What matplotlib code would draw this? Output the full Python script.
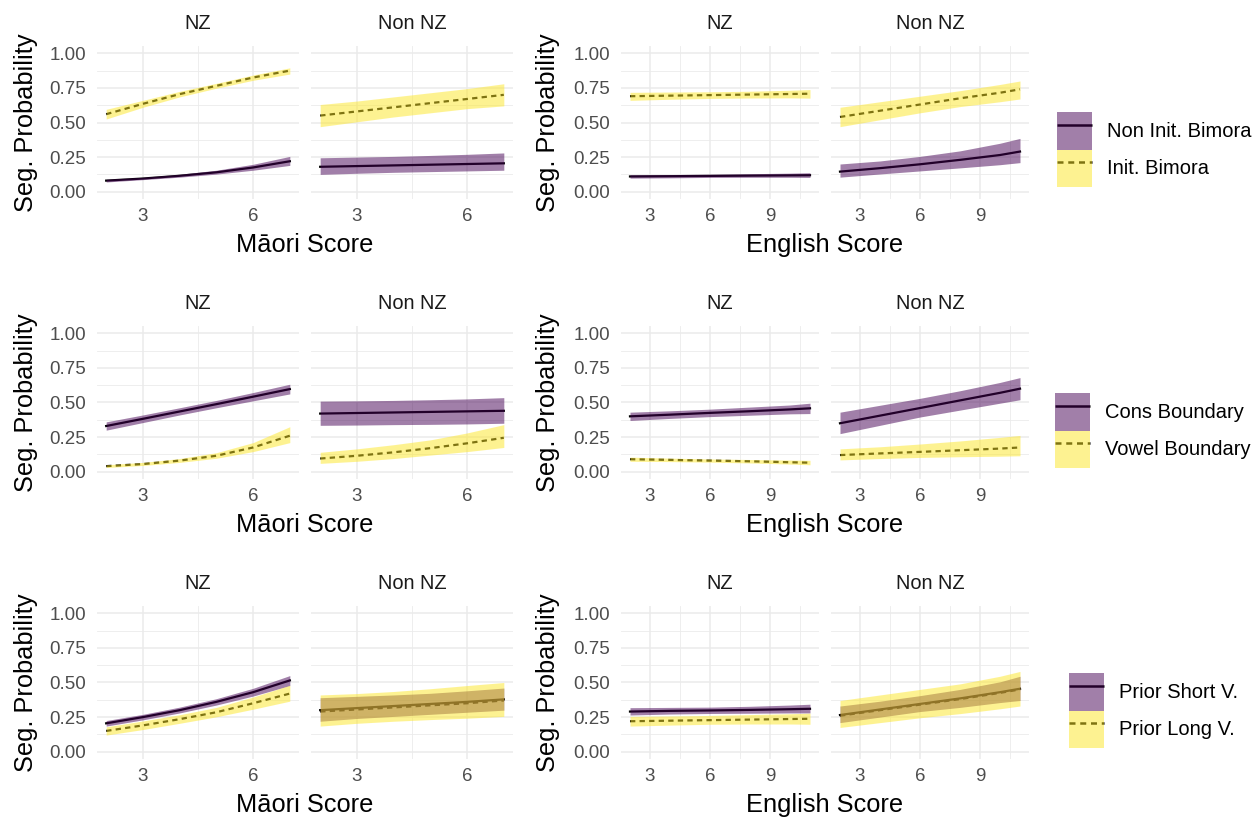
import matplotlib.pyplot as plt
from matplotlib.lines import Line2D
from matplotlib.patches import Patch
from matplotlib.ticker import FixedLocator

plt.rcParams["font.family"] = ["Liberation Sans", "DejaVu Sans"]

# x grids the fitted curves were read at
maori_x = [2, 3, 4, 5, 6, 7]
english_x = [2, 4, 6, 8, 10, 11]

facet_names = ["NZ", "Non NZ"]
y_ticks = [0.0, 0.25, 0.5, 0.75, 1.0]
y_labels = ["0.00", "0.25", "0.50", "0.75", "1.00"]
y_minor = [0.125, 0.375, 0.625, 0.875]
maori_ticks = [3, 6]
maori_minor = [4.5]
english_ticks = [3, 6, 9]
english_minor = [4.5, 7.5, 10.5]

row_labels = [
    ["Non Init. Bimora", "Init. Bimora"],
    ["Cons Boundary", "Vowel Boundary"],
    ["Prior Short V.", "Prior Long V."],
]

# each series: [fit, lower, upper]
# row 1: bimora
bim_mao_nz_a = [[0.080, 0.095, 0.115, 0.140, 0.175, 0.220],
                [0.070, 0.087, 0.105, 0.127, 0.155, 0.190],
                [0.090, 0.104, 0.126, 0.155, 0.198, 0.255]]
bim_mao_nz_b = [[0.560, 0.635, 0.705, 0.765, 0.825, 0.875],
                [0.525, 0.610, 0.685, 0.748, 0.805, 0.850],
                [0.595, 0.660, 0.725, 0.783, 0.843, 0.895]]
bim_mao_non_a = [[0.180, 0.185, 0.190, 0.195, 0.200, 0.205],
                 [0.125, 0.133, 0.140, 0.145, 0.150, 0.155],
                 [0.245, 0.250, 0.255, 0.262, 0.270, 0.280]]
bim_mao_non_b = [[0.550, 0.580, 0.610, 0.640, 0.670, 0.700],
                 [0.470, 0.505, 0.540, 0.570, 0.600, 0.620],
                 [0.630, 0.655, 0.685, 0.715, 0.745, 0.780]]
bim_eng_nz_a = [[0.110, 0.112, 0.114, 0.116, 0.118, 0.119],
                [0.098, 0.100, 0.103, 0.104, 0.104, 0.103],
                [0.123, 0.124, 0.126, 0.130, 0.134, 0.137]]
bim_eng_nz_b = [[0.690, 0.694, 0.698, 0.702, 0.706, 0.708],
                [0.660, 0.668, 0.674, 0.677, 0.678, 0.676],
                [0.718, 0.720, 0.722, 0.726, 0.733, 0.738]]
bim_eng_non_a = [[0.145, 0.170, 0.198, 0.230, 0.265, 0.290],
                 [0.105, 0.128, 0.150, 0.172, 0.195, 0.210],
                 [0.200, 0.222, 0.255, 0.295, 0.350, 0.385]]
bim_eng_non_b = [[0.540, 0.585, 0.630, 0.675, 0.715, 0.740],
                 [0.470, 0.520, 0.570, 0.615, 0.650, 0.670],
                 [0.610, 0.650, 0.690, 0.730, 0.775, 0.800]]

# row 2: boundary
bnd_mao_nz_a = [[0.330, 0.382, 0.435, 0.488, 0.542, 0.597],
                [0.300, 0.355, 0.410, 0.462, 0.512, 0.562],
                [0.360, 0.410, 0.462, 0.515, 0.572, 0.632]]
bnd_mao_nz_b = [[0.040, 0.055, 0.080, 0.115, 0.175, 0.260],
                [0.030, 0.045, 0.067, 0.097, 0.145, 0.210],
                [0.050, 0.067, 0.095, 0.137, 0.210, 0.325]]
bnd_mao_non_a = [[0.420, 0.424, 0.428, 0.432, 0.436, 0.440],
                 [0.335, 0.337, 0.340, 0.342, 0.345, 0.350],
                 [0.510, 0.512, 0.515, 0.520, 0.526, 0.535]]
bnd_mao_non_b = [[0.095, 0.115, 0.140, 0.170, 0.205, 0.245],
                 [0.060, 0.075, 0.095, 0.120, 0.145, 0.175],
                 [0.140, 0.165, 0.195, 0.230, 0.280, 0.340]]
bnd_eng_nz_a = [[0.400, 0.412, 0.425, 0.437, 0.450, 0.458],
                [0.370, 0.385, 0.398, 0.408, 0.418, 0.420],
                [0.430, 0.440, 0.452, 0.467, 0.482, 0.495]]
bnd_eng_nz_b = [[0.090, 0.085, 0.080, 0.075, 0.068, 0.065],
                [0.075, 0.073, 0.069, 0.063, 0.055, 0.050],
                [0.105, 0.098, 0.092, 0.088, 0.084, 0.082]]
bnd_eng_non_a = [[0.350, 0.405, 0.460, 0.515, 0.570, 0.600],
                 [0.275, 0.335, 0.395, 0.445, 0.495, 0.520],
                 [0.430, 0.480, 0.530, 0.585, 0.645, 0.680]]
bnd_eng_non_b = [[0.120, 0.132, 0.143, 0.155, 0.167, 0.175],
                 [0.085, 0.095, 0.103, 0.108, 0.112, 0.115],
                 [0.165, 0.180, 0.200, 0.222, 0.248, 0.262]]

# row 3: prior vowel length
pv_mao_nz_a = [[0.205, 0.250, 0.300, 0.360, 0.430, 0.515],
               [0.185, 0.230, 0.280, 0.337, 0.402, 0.478],
               [0.225, 0.270, 0.322, 0.383, 0.458, 0.550]]
pv_mao_nz_b = [[0.150, 0.190, 0.235, 0.285, 0.350, 0.420],
               [0.120, 0.160, 0.205, 0.252, 0.307, 0.365],
               [0.180, 0.222, 0.267, 0.320, 0.395, 0.480]]
pv_mao_non_a = [[0.300, 0.315, 0.330, 0.345, 0.360, 0.378],
                [0.220, 0.240, 0.255, 0.270, 0.285, 0.300],
                [0.390, 0.400, 0.410, 0.422, 0.440, 0.460]]
pv_mao_non_b = [[0.290, 0.305, 0.320, 0.335, 0.350, 0.370],
                [0.185, 0.205, 0.220, 0.232, 0.242, 0.255],
                [0.410, 0.420, 0.435, 0.455, 0.478, 0.500]]
pv_eng_nz_a = [[0.290, 0.295, 0.298, 0.302, 0.307, 0.310],
               [0.265, 0.272, 0.276, 0.278, 0.280, 0.280],
               [0.318, 0.320, 0.322, 0.328, 0.337, 0.343]]
pv_eng_nz_b = [[0.220, 0.224, 0.228, 0.232, 0.236, 0.238],
               [0.185, 0.192, 0.198, 0.200, 0.200, 0.198],
               [0.255, 0.258, 0.262, 0.268, 0.274, 0.278]]
pv_eng_non_a = [[0.265, 0.305, 0.345, 0.385, 0.430, 0.455],
                [0.210, 0.250, 0.290, 0.320, 0.355, 0.370],
                [0.330, 0.365, 0.405, 0.450, 0.505, 0.545]]
pv_eng_non_b = [[0.260, 0.300, 0.340, 0.380, 0.425, 0.450],
                [0.175, 0.210, 0.245, 0.275, 0.310, 0.330],
                [0.370, 0.410, 0.450, 0.490, 0.545, 0.580]]

rows = [
    [[bim_mao_nz_a, bim_mao_nz_b], [bim_mao_non_a, bim_mao_non_b],
     [bim_eng_nz_a, bim_eng_nz_b], [bim_eng_non_a, bim_eng_non_b]],
    [[bnd_mao_nz_a, bnd_mao_nz_b], [bnd_mao_non_a, bnd_mao_non_b],
     [bnd_eng_nz_a, bnd_eng_nz_b], [bnd_eng_non_a, bnd_eng_non_b]],
    [[pv_mao_nz_a, pv_mao_nz_b], [pv_mao_non_a, pv_mao_non_b],
     [pv_eng_nz_a, pv_eng_nz_b], [pv_eng_non_a, pv_eng_non_b]],
]

FILLS = ["#440154", "#FDE725"]
STYLES = ["-", (0, (2.4, 1.9))]
GRID = "#EBEBEB"

W, H = 1255, 818
fig = plt.figure(figsize=(W / 100, H / 100), dpi=100)

col_px = [(97, 299), (311, 513), (621, 819), (831, 1029)]
row_top = [46.4, 326.4, 606.4]
panel_h = 152.2
legend_pos = [(1057, 149.5), (1055, 430.5), (1069, 710.5)]


def draw_panel(ax, x, series, ticks, minor, show_y):
    # lines sit under the ribbons, like the original layer order
    for s, ls in zip(series, STYLES):
        ax.plot(x, s[0], color="black", lw=1.6, ls=ls, zorder=2)
    for s, c in zip(series, FILLS):
        ax.fill_between(x, s[1], s[2], color=c, alpha=0.5, lw=0, zorder=3)

    pad = (max(x) - min(x)) * 0.05
    ax.set_xlim(min(x) - pad, max(x) + pad)
    ax.set_ylim(-0.05, 1.05)
    ax.xaxis.set_major_locator(FixedLocator(ticks))
    ax.xaxis.set_minor_locator(FixedLocator(minor))
    ax.set_yticks(y_ticks)
    ax.set_yticklabels(y_labels)
    ax.yaxis.set_minor_locator(FixedLocator(y_minor))
    ax.grid(which="major", color=GRID, lw=1.1, zorder=0)
    ax.grid(which="minor", color=GRID, lw=0.6, zorder=0)
    ax.set_axisbelow(True)
    for sp in ax.spines.values():
        sp.set_visible(False)
    ax.tick_params(which="both", length=0, labelsize=13.5, labelcolor="#4D4D4D")
    ax.tick_params(axis="x", pad=7)
    ax.tick_params(axis="y", pad=8, labelleft=show_y)


for r, row in enumerate(rows):
    top = row_top[r]
    for c, series in enumerate(row):
        left, right = col_px[c]
        ax = fig.add_axes([left / W, 1 - (top + panel_h) / H, (right - left) / W, panel_h / H])
        if c < 2:
            draw_panel(ax, maori_x, series, maori_ticks, maori_minor, c == 0)
        else:
            draw_panel(ax, english_x, series, english_ticks, english_minor, c == 2)
        ax.text(0.5, 1.152, facet_names[c % 2], transform=ax.transAxes,
                ha="center", va="center", fontsize=14.4, color="#1A1A1A")

    yc = 1 - (top + panel_h / 2) / H
    fig.text(26 / W, yc, "Seg. Probability", rotation=90, ha="center", va="center", fontsize=18.3)
    fig.text(548 / W, yc, "Seg. Probability", rotation=90, ha="center", va="center", fontsize=18.3)
    xl_y = 1 - (245 + 280 * r) / H
    fig.text(305 / W, xl_y, "Māori Score", ha="center", va="center", fontsize=18.3)
    fig.text(825 / W, xl_y, "English Score", ha="center", va="center", fontsize=18.3)

    handles = [(Line2D([], [], color="black", lw=1.8, ls=ls, solid_capstyle="butt"),
                Patch(facecolor=fc, alpha=0.5, lw=0))
               for fc, ls in zip(FILLS, STYLES)]
    lx, ly = legend_pos[r]
    fig.legend(handles, row_labels[r], loc="center left", bbox_to_anchor=(lx / W, 1 - ly / H),
               frameon=False, fontsize=14.5, handlelength=1.75, handleheight=2.45,
               labelspacing=0.0, handletextpad=0.75, borderpad=0, borderaxespad=0)

fig.savefig("out.png", dpi=100, facecolor="white")
